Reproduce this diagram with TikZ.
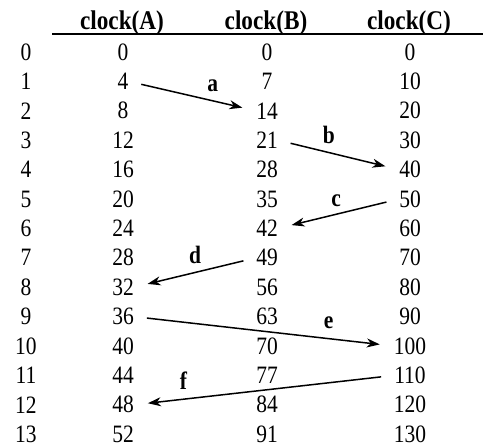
\documentclass[tikz,border=0pt]{standalone}
\usepackage{fontspec}
\setmainfont{Liberation Serif}
\newfontfamily\tablefont[FakeStretch=0.86]{Liberation Serif}
\usetikzlibrary{arrows.meta}

\begin{document}
\begin{tikzpicture}[x=1pt, y=-1pt,
    num/.style={font=\tablefont\fontsize{25}{25}\selectfont, inner sep=0pt},
    head/.style={font=\tablefont\bfseries\fontsize{27}{27}\selectfont, inner sep=0pt, anchor=base},
    lbl/.style={font=\tablefont\bfseries\fontsize{25}{25}\selectfont, inner sep=1pt},
    msg/.style={-{Stealth[length=13pt,width=9pt,inset=4pt]}, line width=1.5pt,
        shorten <=13pt, shorten >=14pt}]
    % Define row spacing
    \def\rowTop{52}
    \def\rowStep{29.4}

    \useasboundingbox (0,0) rectangle (483,447);

    % Draw header and rule
    \node[head] (hA) at (122,30) {clock(A)};
    \node[head] (hB) at (266,30) {clock(B)};
    \node[head] (hC) at (409,30) {clock(C)};
    \draw[line width=2pt] (52,34) -- (483,34);

    % Fill the rows
    \foreach \r in {0,...,13} {
        \pgfmathsetmacro{\y}{\rowTop+\rowStep*\r}
        \pgfmathtruncatemacro{\va}{4*\r}
        \pgfmathtruncatemacro{\vb}{7*\r}
        \pgfmathtruncatemacro{\vc}{10*\r}
        \node[num] (I\r) at (26,\y) {\r};
        \node[num] (A\r) at (123,\y) {\va};
        \node[num] (B\r) at (267,\y) {\vb};
        \node[num] (C\r) at (410,\y) {\vc};
    }

    % Draw the messages
    \draw[msg] (A1.east) -- (B2.west) node[lbl, pos=0.66, above=7pt] {a};
    \draw[msg] (B3.east) -- (C4.west) node[lbl, pos=0.42, above=7pt] {b};
    \draw[msg] (C5.west) -- (B6.east) node[lbl, pos=0.52, above=6pt] {c};
    \draw[msg] (B7.west) -- (A8.east) node[lbl, pos=0.5, above=7pt] {d};
    \draw[msg] (A9.east) -- (C10.west) node[lbl, pos=0.75, above=8pt] {e};
    \draw[msg] (C11.west) -- (A12.east) node[lbl, pos=0.81, above=8pt] {f};
\end{tikzpicture}
\end{document}
